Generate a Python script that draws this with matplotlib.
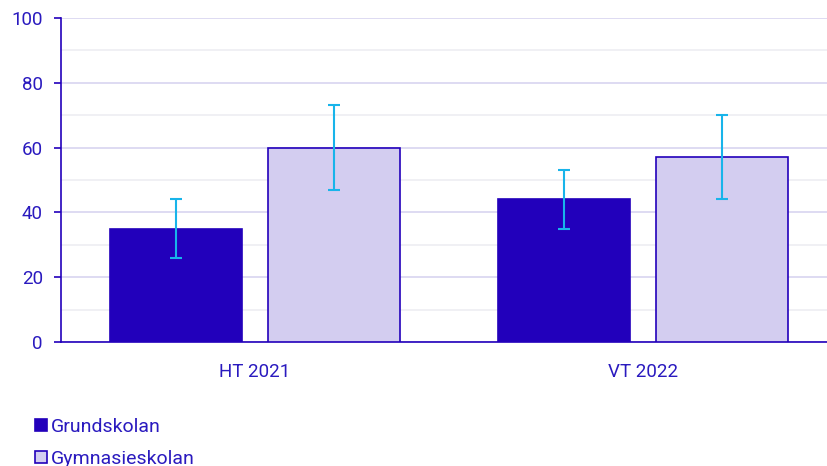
import numpy as np
import matplotlib
matplotlib.use("Agg")
import matplotlib.pyplot as plt
from matplotlib.lines import Line2D

plt.rcParams.update({"font.family": ["Roboto", "DejaVu Sans"], "font.size": 13.5})

DARK = "#2200bb"
LIGHT = "#d3cdf0"
ERR = "#18b4ea"
TXT = "#2a1abf"

categories = ["HT 2021", "VT 2022"]
series = ["Grundskolan", "Gymnasieskolan"]
grund = [35, 44]
grund_lo = [26, 35]
grund_hi = [44, 53]
gym = [60, 57]
gym_lo = [47, 44]
gym_hi = [73, 70]

fig = plt.figure(figsize=(8.28, 4.66), dpi=100)
ax = fig.add_axes([61 / 828, 124 / 466, 776 / 828, 324 / 466])

x = np.arange(len(categories))
w = 0.34
off = 0.203
for vals, lo, hi, col, sgn in [(grund, grund_lo, grund_hi, DARK, -1),
                               (gym, gym_lo, gym_hi, LIGHT, 1)]:
    xs = x + sgn * off
    ax.bar(xs, vals, width=w, color=col, edgecolor=DARK, linewidth=1.2, zorder=3)
    vals = np.array(vals)
    yerr = [vals - np.array(lo), np.array(hi) - vals]
    ax.errorbar(xs, vals, yerr=yerr, fmt="none", ecolor=ERR, elinewidth=1.5,
                capsize=4, capthick=1.5, zorder=4)

ax.set_xlim(-0.5, 1.5)
ax.set_ylim(0, 100)
ax.set_yticks(np.arange(0, 101, 20))
ax.set_yticks(np.arange(10, 100, 20), minor=True)
ax.grid(axis="y", which="major", color="#d8d4f0", lw=1.2, zorder=0)
ax.grid(axis="y", which="minor", color="#ededf2", lw=1.2, zorder=0)
ax.set_axisbelow(True)
ax.set_xticks(x)
ax.set_xticklabels(categories)
ax.tick_params(axis="x", length=0, pad=15, labelcolor=TXT)
ax.tick_params(axis="y", which="major", length=5, color=DARK, width=1.2,
               labelcolor=TXT, pad=8)
ax.tick_params(axis="y", which="minor", length=0)
for s in ["top", "right"]:
    ax.spines[s].set_visible(False)
for s in ["left", "bottom"]:
    ax.spines[s].set_color(DARK)
    ax.spines[s].set_linewidth(1.2)

handles = [Line2D([], [], marker="s", ls="none", ms=9, mfc=c, mec=DARK, mew=1.2)
           for c in [DARK, LIGHT]]
fig.legend(handles, series, loc="upper left", bbox_to_anchor=(0.04, 0.103),
           frameon=False, labelcolor=TXT, fontsize=14, handletextpad=0.1,
           handlelength=0.8, labelspacing=0.7, borderaxespad=0,
           borderpad=0)

fig.savefig("out.png", dpi=100, facecolor="white")
